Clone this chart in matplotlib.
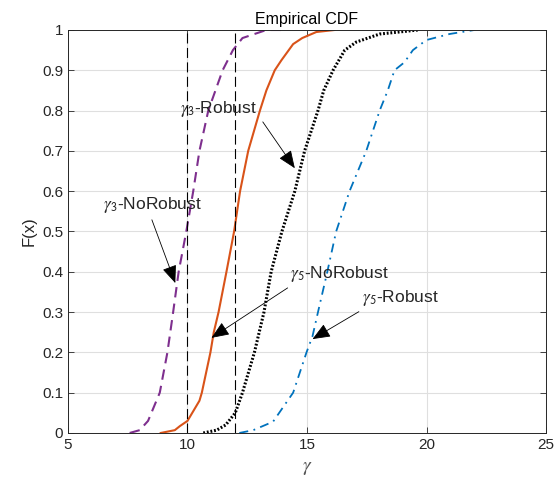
import matplotlib
matplotlib.use('Agg')
import matplotlib.pyplot as plt

plt.rcParams['font.family'] = ['Liberation Sans', 'DejaVu Sans']
plt.rcParams['mathtext.fontset'] = 'stix'

# curves: x at given F levels
purple_x = [7.58, 8.0, 8.35, 8.84, 9.16, 9.4, 9.63, 9.95, 10.24, 10.5, 10.87, 11.47, 11.9, 12.3, 13.3, 14.1]
purple_F = [0, 0.007, 0.03, 0.1, 0.2, 0.3, 0.4, 0.5, 0.6, 0.7, 0.8, 0.9, 0.95, 0.98, 1.0, 1.0]

orange_x = [8.88, 9.47, 9.68, 10.0, 10.5, 10.6, 10.96, 11.1, 11.3, 11.63, 11.95, 12.2, 12.54,
            13.03, 13.3, 13.65, 13.93, 14.42, 14.8, 15.39, 16.15]
orange_F = [0, 0.007, 0.017, 0.03, 0.08, 0.1, 0.2, 0.25, 0.3, 0.4, 0.5, 0.6, 0.7,
            0.8, 0.85, 0.9, 0.925, 0.965, 0.98, 0.995, 1.0]

black_x = [10.66, 11.22, 11.6, 12.0, 12.3, 12.8, 13.2, 13.5, 13.95, 14.49, 14.9, 15.46, 15.7,
           16.09, 16.58, 17.06, 18.04, 19.64]
black_F = [0, 0.007, 0.02, 0.05, 0.1, 0.2, 0.3, 0.4, 0.5, 0.6, 0.7, 0.8, 0.85,
           0.9, 0.95, 0.97, 0.99, 1.0]

blue_x = [12.17, 12.75, 13.58, 14.42, 14.98, 15.23, 15.46, 15.85, 16.22, 16.78, 17.48, 18.04,
          18.38, 18.66, 19.08, 19.43, 19.99, 20.96, 22.0]
blue_F = [0, 0.007, 0.028, 0.1, 0.2, 0.24, 0.3, 0.4, 0.5, 0.6, 0.7, 0.8,
          0.85, 0.9, 0.92, 0.95, 0.975, 0.99, 1.0]

thresholds = [10, 12]

# labels: text, text pos, arrow tail, arrow tip
labels = ['$\\gamma_{\\mathsf{3}}$-NoRobust', '$\\gamma_{\\mathsf{3}}$-Robust',
          '$\\gamma_{\\mathsf{5}}$-NoRobust', '$\\gamma_{\\mathsf{5}}$-Robust']
label_xy = [(6.45, 0.565), (9.7, 0.805), (14.3, 0.395), (17.3, 0.335)]
tail_xy = [(8.51, 0.529), (13.15, 0.772), (14.19, 0.36), (17.17, 0.301)]
tip_xy = [(9.49, 0.372), (14.49, 0.657), (11.0, 0.236), (15.23, 0.233)]

fig = plt.figure(figsize=(5.55, 4.95), dpi=100)
ax = fig.add_axes([0.1225, 0.1253, 0.8613, 0.8141])

dark = '#262626'
ax.grid(True, color='#dfdfdf', lw=0.8)
ax.set_axisbelow(True)

ax.plot(purple_x, purple_F, color='#7E2F8E', ls=(0, (5, 3)), lw=1.5)
ax.plot(orange_x, orange_F, color='#D95319', ls='-', lw=1.5)
ax.plot(black_x, black_F, color='k', ls=(0, (0.6, 0.6)), lw=2.2)
ax.plot(blue_x, blue_F, color='#0072BD', ls=(0, (5, 3, 1, 3)), lw=1.3)

for t in thresholds:
    ax.plot([t, t], [0, 1], color='k', ls=(0, (9, 4)), lw=0.8)

for lab, lxy, txy, hxy in zip(labels, label_xy, tail_xy, tip_xy):
    ax.text(lxy[0], lxy[1], lab, fontsize=12.5, color=dark, ha='left', va='center')
    ax.annotate('', xy=hxy, xytext=txy,
                arrowprops=dict(arrowstyle='-|>,head_length=1.1,head_width=0.45',
                                color='k', lw=0.6, shrinkA=0, shrinkB=0))

ax.set_xlim(5, 25)
ax.set_ylim(0, 1)
ax.set_xticks([5, 10, 15, 20, 25])
ax.set_yticks([i / 10 for i in range(11)])
ax.set_yticklabels(['0', '0.1', '0.2', '0.3', '0.4', '0.5', '0.6', '0.7', '0.8', '0.9', '1'])
ax.tick_params(direction='in', length=4, width=0.6, colors=dark, labelsize=11,
               top=True, right=True)
for s in ax.spines.values():
    s.set_color(dark)
    s.set_linewidth(0.7)

ax.set_title('Empirical CDF', fontsize=11.5, color='k', pad=4)
ax.set_xlabel('$\\gamma$', fontsize=14, color='#555555', labelpad=6)
ax.set_ylabel('F(x)', fontsize=12, color=dark, labelpad=4)

fig.savefig('out.png', dpi=100)
